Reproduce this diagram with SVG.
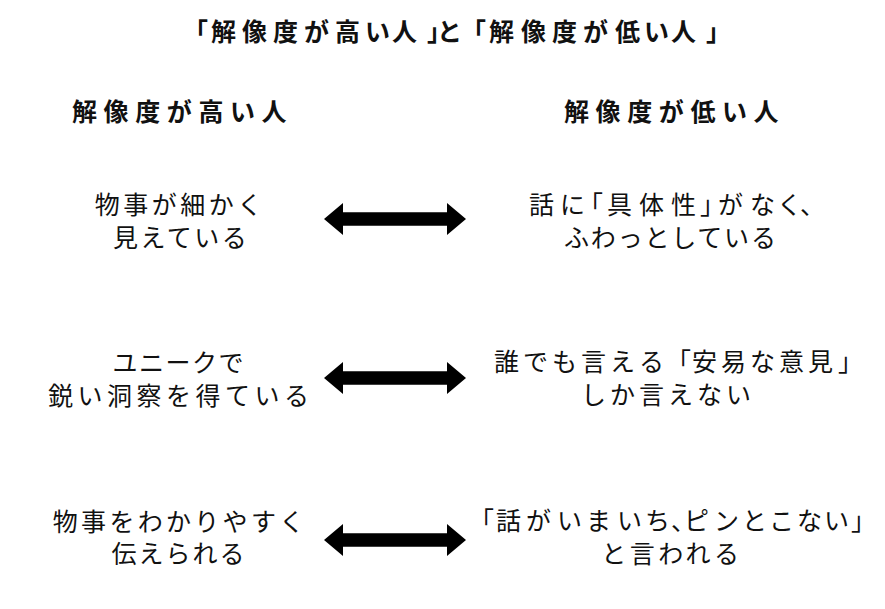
<svg xmlns="http://www.w3.org/2000/svg" width="885" height="609" viewBox="0 0 885 609">
<style>
text{font-family:"Noto Sans CJK JP","Noto Sans CJK SC",sans-serif;fill:#111;font-size:25px}
.title{font-weight:700}
.head{font-weight:700;letter-spacing:6.6px}
.body{font-weight:400}
.arrow{fill:#000}
</style>
<defs>
<path id="dbl" d="M324,0 L343,-16 L343,-6.8 L447,-6.8 L447,-16 L466,0 L447,16 L447,6.8 L343,6.8 L343,16 Z"/>
</defs>
<rect width="885" height="609" fill="#fff"/>
<g id="title">
<text class="title" x="183 211 242 273 304 335 365 392 427 437 461 489 521 552 583 615 644 671 706" y="40.5">「解像度が高い人」と「解像度が低い人」</text>
</g>
<g id="header-high"><text class="head" x="72" y="120.5">解像度が高い人</text></g>
<g id="header-low"><text class="head" x="564" y="120.5">解像度が低い人</text></g>
<g id="high-1">
<text class="body" style="letter-spacing:3.5px" x="180.25" y="214" text-anchor="middle">物事が細かく</text>
<text class="body" style="letter-spacing:2.5px" x="181.25" y="247" text-anchor="middle">見えている</text>
</g>
<g id="low-1">
<text class="body" x="529 560 578 607 639 671 700 718 750 777 800" y="213.5">話に「具体性」がなく、</text>
<text class="body" style="letter-spacing:1.8px" x="670.9" y="246.5" text-anchor="middle">ふわっとしている</text>
</g>
<g id="high-2">
<text class="body" style="letter-spacing:1.5px" x="178.75" y="372" text-anchor="middle">ユニークで</text>
<text class="body" style="letter-spacing:4.5px" x="180.75" y="404.5" text-anchor="middle">鋭い洞察を得ている</text>
</g>
<g id="low-2">
<text class="body" x="494 523 552 581 610 639 666 692 721 750 779 808 838" y="371">誰でも言える「安易な意見」</text>
<text class="body" style="letter-spacing:4px" x="668" y="403.5" text-anchor="middle">しか言えない</text>
</g>
<g id="high-3">
<text class="body" style="letter-spacing:3.3px" x="180.15" y="530.5" text-anchor="middle">物事をわかりやすく</text>
<text class="body" style="letter-spacing:2px" x="179" y="563" text-anchor="middle">伝えられる</text>
</g>
<g id="low-3">
<text class="body" x="469 496 526 557 586 617 645 671 684 714 742 769 797 824 851" y="530">「話がいまいち、ピンとこない」</text>
<text class="body" style="letter-spacing:3.5px" x="672" y="563" text-anchor="middle">と言われる</text>
</g>
<g id="connectors" class="arrow">
<use href="#dbl" transform="translate(0,219)"/>
<use href="#dbl" transform="translate(0,378)"/>
<use href="#dbl" transform="translate(0,540)"/>
</g>
</svg>
